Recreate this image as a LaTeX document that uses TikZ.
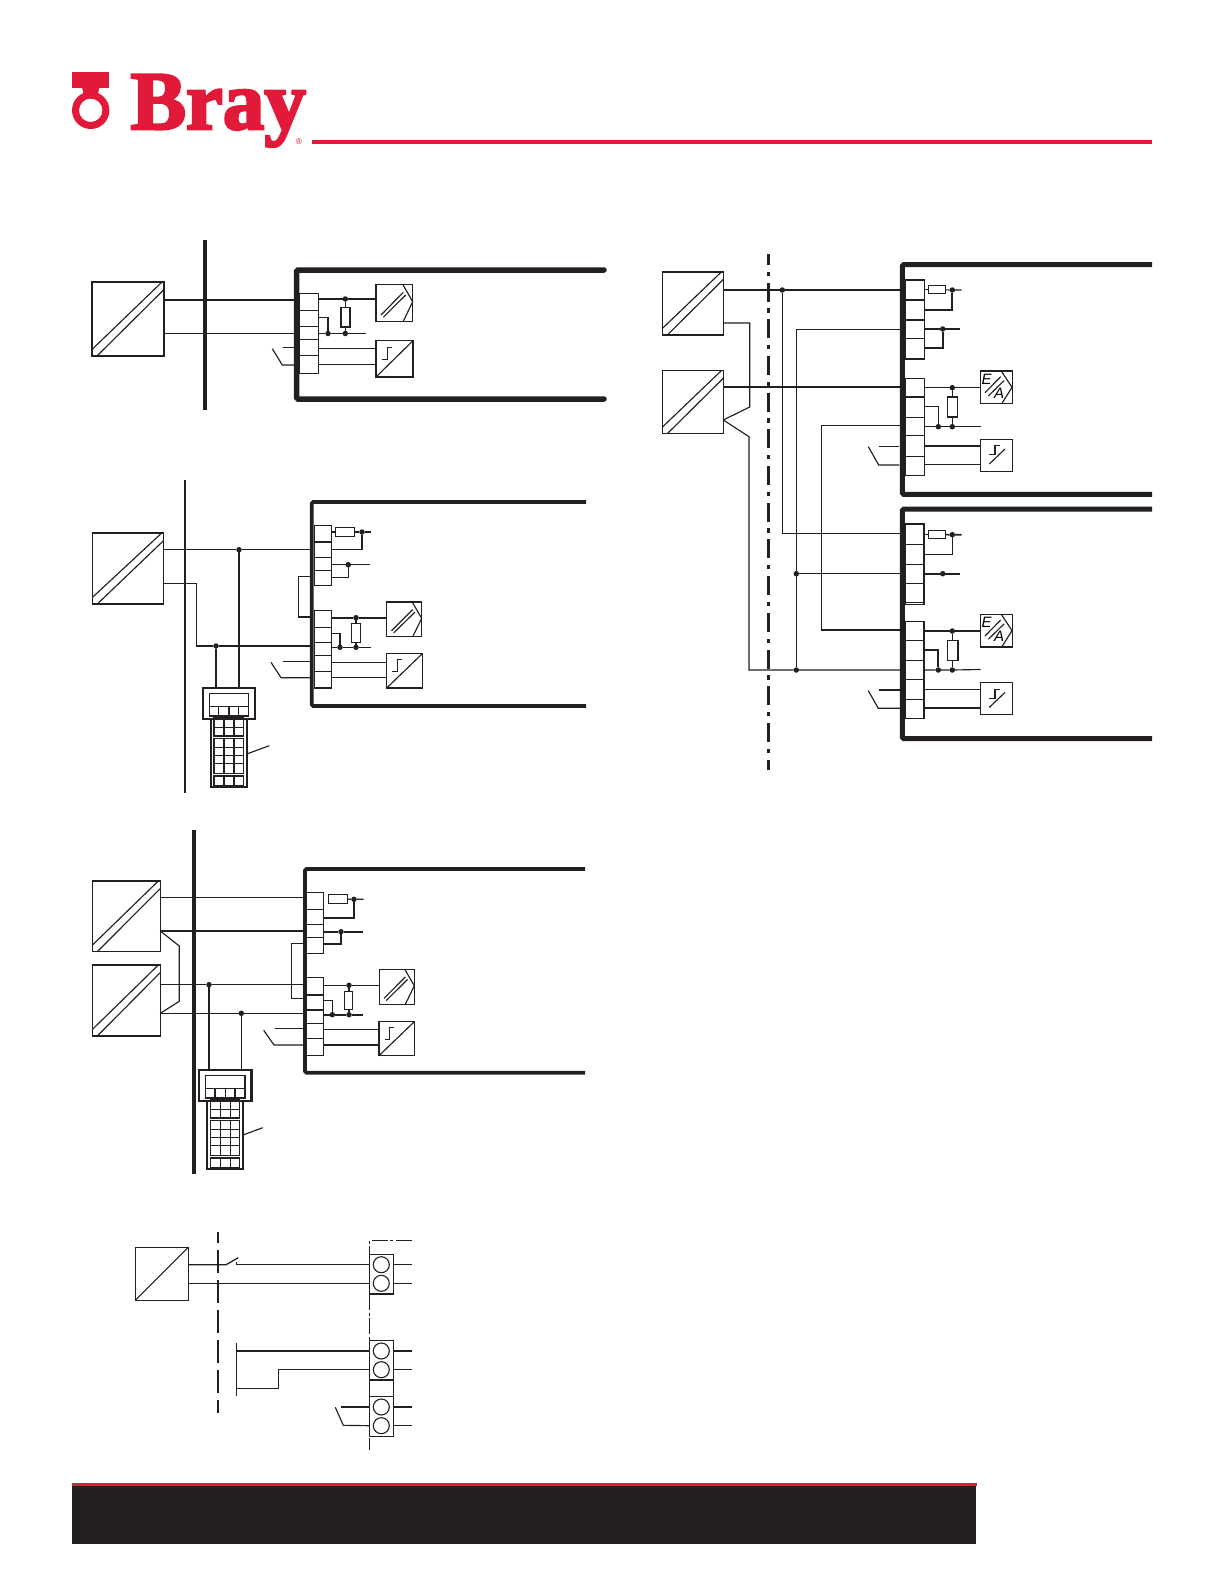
\documentclass[tikz,border=0pt]{standalone}
\usepackage{fontspec}
\setmainfont{Liberation Serif}
\newfontfamily\logofont[FakeBold=3.2]{Liberation Serif Bold}
\newfontfamily\smallsans{Liberation Sans}
\definecolor{ink}{HTML}{231F20}
\definecolor{brayred}{HTML}{E21A3A}
\tikzset{
  x=1pt,y=-1pt,
  wire/.style={draw=ink,line width=1.15pt},
  hwire/.style={draw=ink,line width=1.7pt},
  frame/.style={draw=ink,line width=1.1pt,rectangle,inner sep=0pt,outer sep=0pt},
  cellline/.style={draw=ink,line width=1.1pt},
  jd/.style={circle,fill=ink,inner sep=0pt,outer sep=0pt,minimum size=5.5pt},
  encl/.style={draw=ink,rounded corners=1.5pt},
  dashdotbus/.style={draw=ink,line width=2.6pt,dash pattern=on 19pt off 6.7pt on 4.3pt off 6.7pt,dash phase=8.2pt},
  thinchain/.style={draw=ink,line width=.9pt,dash pattern=on 16pt off 2.5pt on 3pt off 2.5pt},
  brkbus/.style={draw=ink,line width=1.8pt,dash pattern=on 23pt off 7pt,dash phase=12pt},
}
% framed rectangle node from its corners
\newcommand{\rectnode}[6][]{\node[frame,#1,minimum width={(#4-#2)*1pt},minimum height={(#5-#3)*1pt}] (#6) at ({(#2+#4)/2},{(#3+#5)/2}) {};}
\newcommand{\convbox}[5]{\rectnode{#2}{#3}{#4}{#5}{#1}
  \draw[wire] (#2,{#5-6.5}) -- ({#4-2},#3);
  \draw[wire] ({#2+5},#5) -- (#4,{#3+7.5});}
\newcommand{\adcbox}[5]{\rectnode{#2}{#3}{#4}{#5}{#1}
  \begin{scope}[shift={(#2,#3)},xscale={(#4-#2)/36.7},yscale={(#5-#3)/37}]
  \draw[wire] (5,30.7) -- (27.3,8);
  \draw[wire] (7.3,33) -- (29.7,10.7);
  \draw[wire] (26.7,0) -- (36.7,17.4) -- (27.3,37);
  \end{scope}}
\newcommand{\stpbox}[5]{\rectnode{#2}{#3}{#4}{#5}{#1}
  \begin{scope}[shift={(#2,#3)},xscale={(#4-#2)/36.7},yscale={(#5-#3)/37}]
  \draw[wire] (0,37) -- (36.7,0);
  \draw[wire] (5.7,19.3) -- (11,19.3) -- (11,6.6) -- (15.7,6.6);
  \end{scope}}
\newcommand{\stpboxb}[5]{\rectnode{#2}{#3}{#4}{#5}{#1}
  \begin{scope}[shift={(#2,#3)}]
  \draw[wire] (8.6,24.7) -- (24.3,9.7);
  \draw[wire] (8.6,15.4) -- (14.3,15.4) -- (14.3,6.4) -- (19.3,6.4);
  \end{scope}}
\newcommand{\eabox}[5]{\rectnode{#2}{#3}{#4}{#5}{#1}
  \begin{scope}[shift={(#2,#3)}]
  \draw[wire] (4.3,21.7) -- (20,5.7);
  \draw[wire] (7.6,25) -- (23.3,9.7);
  \draw[wire] (21,.7) -- (31.3,16.3) -- (21.3,32.3);
  \node[inner sep=0pt] (#1E) at (6,8) {\smallsans\itshape\fontsize{15}{15}\selectfont E};
  \node[inner sep=0pt] (#1A) at (18.5,22) {\smallsans\itshape\fontsize{15}{15}\selectfont A};
  \end{scope}}
\newcommand{\termblock}[6]{\rectnode{#2}{#3}{#4}{#5}{#1}
  \foreach \d in {#6} {\draw[cellline] (#2,\d) -- (#4,\d);}}
\newcommand{\resbox}[5]{\rectnode[fill=white,line width=1.1pt]{#2}{#3}{#4}{#5}{#1}}
\newcommand{\jdot}[3]{\node[jd] (#1) at (#2,#3) {};}
\newcommand{\handset}[3]{%
  \begin{scope}[shift={(#2,#3)}]
  \rectnode[line width=2.3pt]{202.7}{687.7}{255.3}{719}{#1}
  \rectnode[line width=2.3pt]{210.7}{719}{246.7}{787.3}{#1body}
  \rectnode{209.3}{693.3}{248.7}{706.7}{#1screen}
  \rectnode{209.3}{706.7}{248.7}{716}{#1soft}
  \foreach \k in {218.7,229,238.7} {\draw[cellline] (\k,706.7) -- (\k,716);}
  \rectnode{214}{717.3}{243.3}{736}{#1keysa}
  \rectnode{214}{738.3}{243.3}{773.3}{#1keysb}
  \rectnode{214}{776}{243.3}{785.3}{#1keysc}
  \foreach \k in {224,234} {\draw[cellline] (\k,717.3) -- (\k,736);
    \draw[cellline] (\k,738.3) -- (\k,773.3);\draw[cellline] (\k,776) -- (\k,785.3);}
  \foreach \r in {727.3} {\draw[cellline] (214,\r) -- (243.3,\r);}
  \foreach \r in {747.3,755.7,763.7} {\draw[cellline] (214,\r) -- (243.3,\r);}
  \end{scope}}
\begin{document}
\begin{tikzpicture}
\useasboundingbox (0,0) rectangle (1224,1584);
\fill[white] (0,0) rectangle (1224,1584);

%% ---------- header ----------
\fill[brayred] (72,72.3) rectangle (109.3,87.7);
\fill[brayred] (82,87) -- (99.5,87) -- (97.5,96) -- (84,96) -- cycle;
\fill[brayred,even odd rule] (90.7,110.3) circle[radius=18.7] (90.7,110.3) circle[radius=11.7];
\node[anchor=base west,inner sep=0pt,text=brayred] (logo) at (130.5,129)
  {\logofont\fontsize{83}{83}\selectfont Bray};
\node[text=brayred,inner sep=0pt] (reg) at (299,142) {\smallsans\fontsize{8.5}{8.5}\selectfont ®};
\fill[brayred] (311.7,140) rectangle (1152,144.3);

%% ---------- footer ----------
\fill[ink] (72,1486) rectangle (976,1544);
\fill[brayred] (72,1482.7) rectangle (977,1486);

%% ---------- diagram 1 ----------
\draw[draw=ink,line width=4pt] (205,240) -- (205,410);
\draw[encl,line cap=round,line width=5.5pt] (604,270) -- (296.5,270) -- (296.5,399) -- (604,399);
\convbox{conva}{92}{282}{164}{356}
\termblock{ta}{299.5}{293.3}{318.5}{373.7}{310.3,326.3,339.7,355.7}
\adcbox{adca}{376}{284.3}{412.7}{321.3}
\stpbox{stpa}{376}{340.7}{413}{377}
\coordinate (pa1) at (296,300);
\coordinate (pa2) at (296,333.3);
\draw[wire] (conva.east|-pa1) -- (pa1);
\draw[wire] (conva.east|-pa2) -- (pa2);
\jdot{ja1}{345.3}{299}
\jdot{ja2}{345.3}{333.5}
\jdot{ja3}{328}{333.5}
\coordinate (ea1) at (366,333.5);
\draw[wire] (ta.east|-ja1) -- (ja1) -- (adca.west|-ja1);
\draw[wire] (ta.east|-ja2) -- (ja3) -- (ja2) -- (ea1);
\draw[wire] (ja1) -- (ja2);
\resbox{ra}{341}{307.3}{350}{327}
\draw[wire] (ta.east|-0,317.3) -| (ja3);
\draw[wire] (ta.east|-0,348.3) -- (stpa.west|-0,348.3);
\draw[wire] (ta.east|-0,364.3) -- (stpa.west|-0,364.3);
\draw[wire] (283.3,347.7) -- (296.7,347.7);
\draw[wire] (272.3,348.7) -- (282.3,365) -- (296,365);

%% ---------- diagram 2 ----------
\draw[draw=ink,line width=2.2pt] (185,480) -- (185,793);
\draw[encl,line width=3.8pt] (586,502) -- (311.7,502) -- (311.7,706) -- (586,706);
\convbox{convb}{92.3}{533}{163.7}{604}
\termblock{tbu}{314.3}{525.3}{331.7}{585.7}{542,557.3,570.7}
\termblock{tbl}{314.3}{610.7}{331.7}{688}{627.7,642.7,655.7,671.3}
\adcbox{adcb}{386.7}{602}{421.7}{636.7}
\stpbox{stpb}{386.7}{653.7}{422.3}{688}
\handset{hhb}{0}{0}
\jdot{jb1}{239}{549.7}
\jdot{jb2}{216}{646}
\coordinate (pb1) at (311,549.7);
\coordinate (pb2) at (311,646);
\draw[wire] (convb.east|-pb1) -- (jb1) -- (pb1);
\draw[wire] (convb.east|-0,583.3) -- (196.7,583.3) -- (196.7,646) -- (jb2) -- (pb2);
\draw[wire] (jb1) -- (jb1|-hhb.north);
\draw[wire] (jb2) -- (jb2|-hhb.north);
\rectnode{335.7}{527.7}{354.7}{536.3}{rb1}
\jdot{jb3}{362}{532}
\coordinate (eb1) at (370.7,532);
\draw[hwire] (tbu.east|-rb1) -- (rb1);
\draw[hwire] (rb1) -- (jb3) -- (eb1);
\draw[wire] (tbu.east|-0,549.3) -| (jb3);
\jdot{jb4}{348.3}{564.7}
\coordinate (eb2) at (370,564.7);
\draw[wire] (tbu.east|-jb4) -- (jb4) -- (eb2);
\draw[wire] (tbu.east|-0,577.3) -| (jb4);
\coordinate (pb3) at (311,576.3);
\coordinate (pb4) at (311,617);
\draw[wire] (pb3) -- (298.3,576.3) -- (298.3,617) -- (pb4);
\jdot{jb5}{356}{617.7}
\jdot{jb6}{356}{647.3}
\jdot{jb7}{340}{647.3}
\coordinate (eb3) at (370.7,647.3);
\draw[hwire] (tbl.east|-jb5) -- (jb5) -- (adcb.west|-jb5);
\draw[wire] (tbl.east|-jb6) -- (jb7) -- (jb6) -- (eb3);
\draw[wire] (jb5) -- (jb6);
\resbox{rb2}{351.7}{623.7}{360.3}{642.3}
\draw[wire] (tbl.east|-0,633.7) -| (jb7);
\draw[wire] (tbl.east|-0,662.3) -- (stpb.west|-0,662.3);
\draw[wire] (tbl.east|-0,677.3) -- (stpb.west|-0,677.3);
\draw[wire] (282.7,661.3) -- (311,661.3);
\draw[wire] (271,662.3) -- (281,677.7) -- (311,677.7);
\draw[wire] (hhbbody.east|-0,754) -- (269.3,745.7);

%% ---------- diagram 3 ----------
\draw[draw=ink,line width=3.6pt] (194,830) -- (194,1174);
\draw[encl,line width=3.8pt] (585,869) -- (305,869) -- (305,1072.7) -- (585,1072.7);
\convbox{convc}{92.3}{881}{160.3}{951.7}
\convbox{convd}{92.3}{965}{160.3}{1036}
\termblock{tcu}{306}{892.7}{323.3}{953.3}{909.3,924.3,937.7}
\termblock{tcl}{306}{977.3}{323.3}{1055.3}{995,1010,1023.3,1038.3}
\adcbox{adcc}{379.3}{969.3}{414.3}{1004.3}
\stpbox{stpc}{379}{1021.3}{414.7}{1055.7}
\handset{hhc}{-3.7}{382}
\jdot{jc1}{209}{984.7}
\jdot{jc2}{241.3}{1013.3}
\coordinate (pc1) at (304,897.3);
\coordinate (pc2) at (304,931);
\coordinate (pc3) at (304,984.7);
\coordinate (pc4) at (304,1013.3);
\draw[wire] (convc.east|-pc1) -- (pc1);
\draw[wire] (convc.east|-pc2) -- (pc2);
\draw[wire] (convd.east|-jc1) -- (jc1) -- (pc3);
\draw[wire] (convd.east|-jc2) -- (jc2) -- (pc4);
\draw[wire] (convc.east|-pc2) -- (179.3,946) -- (179.3,1001.3) -- (convd.east|-jc2);
\draw[wire] (jc1) -- (jc1|-hhc.north);
\draw[wire] (jc2) -- (jc2|-hhc.north);
\rectnode{328.3}{894.7}{347.7}{903.3}{rc1}
\jdot{jc3}{354}{899.3}
\coordinate (ec1) at (363.7,899.3);
\draw[wire] (rc1) -- (jc3) -- (ec1);
\draw[hwire] (tcu.east|-0,917.7) -| (jc3);
\jdot{jc4}{341}{931.7}
\coordinate (ec2) at (362.7,931.7);
\draw[hwire] (tcu.east|-jc4) -- (jc4) -- (ec2);
\draw[hwire] (tcu.east|-0,944.3) -| (jc4);
\coordinate (pc5) at (304,943.7);
\coordinate (pc6) at (304,998.7);
\draw[wire] (pc5) -- (291.3,943.7) -- (291.3,998.7) -- (pc6);
\jdot{jc5}{349}{985.3}
\jdot{jc6}{349}{1014.7}
\jdot{jc7}{332.3}{1014.7}
\coordinate (ec3) at (362.7,1014.7);
\draw[wire] (tcl.east|-jc5) -- (jc5) -- (adcc.west|-jc5);
\draw[hwire] (tcl.east|-jc6) -- (jc7) -- (jc6) -- (ec3);
\draw[wire] (jc5) -- (jc6);
\resbox{rc2}{344.3}{991.3}{352.7}{1009.3}
\draw[wire] (tcl.east|-0,1000.3) -| (jc7);
\draw[wire] (tcl.east|-0,1029.3) -- (stpc.west|-0,1029.3);
\draw[hwire] (tcl.east|-0,1044.7) -- (stpc.west|-0,1044.7);
\draw[wire] (275,1028.7) -- (304,1028.7);
\draw[wire] (263.7,1030.3) -- (274,1045) -- (304,1045);
\draw[wire] (hhcbody.east|-0,1135) -- (262.7,1127.7);

%% ---------- diagram 4 ----------
\draw[brkbus] (218,1232) -- (218,1413.3);
\draw[thinchain] (411.7,1240.7) -- (369.3,1240.7) -- (369.3,1450);
\rectnode[fill=white]{135.3}{1247.3}{188.3}{1300.3}{convf}
\draw[wire] (convf.south west) -- (convf.north east);
\rectnode{369.3}{1254.3}{393.3}{1294}{tf1}
\rectnode{369.3}{1340.3}{393.3}{1380}{tf2}
\rectnode{369.3}{1380}{393.3}{1396.3}{tf3}
\rectnode{369.3}{1396.3}{393.3}{1436.3}{tf4}
\foreach \n/\yy/\b in {a/1264.7/tf1,b/1283.3/tf1,c/1351/tf2,d/1369.7/tf2,e/1407/tf4,f/1425.7/tf4}{
  \node[draw=ink,line width=1.1pt,circle,inner sep=0pt,minimum size=16pt] (k\n) at (381.3,\yy) {};
  \coordinate (s\n) at (411.7,\yy);
  \draw[wire] (\b.east|-k\n) -- (s\n);
}
\coordinate (sw1) at (226,1264.7);
\coordinate (sw2) at (238.3,1257.7);
\coordinate (sw3) at (236.3,1261.7);
\draw[wire,line width=1.3pt] (convf.east|-sw1) -- (sw1) -- (sw2);
\draw[wire,line width=1.3pt] (sw3) -- (sw3|-ka) -- (tf1.west|-ka);
\draw[wire] (convf.east|-kb) -- (tf1.west|-kb);
\coordinate (w1) at (236.3,1343);
\coordinate (w2) at (236.3,1395.7);
\draw[wire] (w1) -- (w2);
\draw[wire] (w1|-kc) -- (tf2.west|-kc);
\draw[wire] (w1|-0,1388.3) -- (278.7,1388.3) -- (278.7,1369.7) -- (tf2.west|-kd);
\draw[wire] (341,1407) -- (tf4.west|-ke);
\draw[wire] (335.3,1407.3) -- (343.3,1425.3) -- (tf4.west|-kf);

%% ---------- right-hand diagram ----------
\draw[dashdotbus] (768.3,254) -- (768.3,770);
\draw[encl,line width=5pt] (1152,264.7) -- (902.3,264.7) -- (902.3,494.3) -- (1152,494.3);
\draw[encl,line width=5pt] (1152,509) -- (902.3,509) -- (902.3,738.7) -- (1152,738.7);
\convbox{convg}{662.3}{272}{723.3}{335}
\convbox{convh}{662.3}{370.7}{723.3}{433.7}
\termblock{tgu}{905}{279.7}{924.3}{359}{300,320,338.3}
\termblock{tgl}{905}{378.3}{924.3}{475.3}{397,417.3,435.7,456.7}
\termblock{thu}{905}{524}{924}{604.3}{544.3,564.3,583.3,602.7}
\termblock{thl}{905}{621.3}{924}{718.3}{640.3,660.3,679.3,699.3}
\foreach \tb in {tgu,tgl,thu,thl} {\draw[draw=ink,line width=1.6pt] (\tb.north west) -- (\tb.north east) -- (\tb.south east) -- (\tb.south west);}
\eabox{eag}{980.7}{371}{1012.7}{403.7}
\stpboxb{stpg}{980.7}{439.3}{1012.7}{471.3}
\eabox{eah}{980.7}{614.3}{1012.7}{647}
\stpboxb{stph}{980.7}{682.7}{1012.7}{714.7}
% field wiring
\jdot{jg1}{782.3}{290}
\jdot{jg2}{796.3}{573.7}
\jdot{jg3}{796.3}{670}
\coordinate (pg1) at (900,290);
\coordinate (pg2) at (900,329.3);
\coordinate (pg3) at (900,387);
\coordinate (pg4) at (900,425.7);
\coordinate (ph1) at (900,533.3);
\coordinate (ph2) at (900,573.7);
\coordinate (ph3) at (900,630);
\coordinate (ph4) at (900,670);
\coordinate (kk) at (723.3,420);
\draw[wire] (convg.east|-jg1) -- (jg1) -- (pg1);
\draw[wire] (jg1) -- (782.3,533.3) -- (ph1);
\draw[wire] (796.3,329.3) -- (pg2);
\draw[wire] (796.3,329.3) -- (jg2) -- (jg3);
\draw[wire] (jg2) -- (ph2);
\draw[wire] (convh.east|-pg3) -- (pg3);
\draw[wire] (pg4) -- (821.3,425.7) -- (821.3,630) -- (ph3);
\draw[wire] (convg.east|-0,323) -- (749.7,323) -- (749.7,407) -- (kk);
\draw[wire] (kk) -- (749,436.7) -- (749,670) -- (jg3) -- (ph4);
% upper device
\rectnode{928.3}{285.7}{945.7}{293.7}{rg1}
\jdot{jg4}{952.3}{290}
\coordinate (eg1) at (961.7,290);
\draw[wire] (tgu.east|-rg1) -- (rg1);
\draw[wire] (rg1) -- (jg4) -- (eg1);
\draw[hwire] (tgu.east|-0,310) -| (jg4);
\jdot{jg5}{942.7}{329}
\coordinate (eg2) at (960,329);
\draw[hwire] (tgu.east|-jg5) -- (jg5) -- (eg2);
\draw[hwire] (tgu.east|-0,348.3) -| (jg5);
\jdot{jg6}{952.3}{387.7}
\jdot{jg7}{952.3}{426.7}
\jdot{jg8}{938.3}{426.7}
\coordinate (eg3) at (980.7,426.7);
\draw[wire] (tgl.east|-jg6) -- (jg6) -- (eag.west|-jg6);
\draw[wire] (tgl.east|-jg7) -- (jg8) -- (jg7) -- (eg3);
\draw[wire] (jg6) -- (jg7);
\resbox{rg2}{947.3}{397}{957.7}{417}
\draw[wire] (tgl.east|-0,406.3) -| (jg8);
\draw[wire] (tgl.east|-0,446) -- (stpg.west|-0,446);
\draw[wire] (tgl.east|-0,464.7) -- (stpg.west|-0,464.7);
\draw[wire] (879.3,446.3) -- (899.3,446.3);
\draw[wire] (868.3,446.7) -- (878.7,465) -- (899.3,465);
% lower device
\rectnode{928.3}{530.3}{945.7}{538.7}{rh1}
\jdot{jh4}{952.3}{534.7}
\coordinate (eh1) at (961.7,534.7);
\draw[wire] (thu.east|-rh1) -- (rh1);
\draw[hwire] (rh1) -- (jh4) -- (eh1);
\draw[wire] (thu.east|-0,554.3) -| (jh4);
\jdot{jh5}{942.7}{573.7}
\coordinate (eh2) at (960,573.7);
\draw[hwire] (thu.east|-jh5) -- (jh5) -- (eh2);
\jdot{jh6}{952.3}{631}
\jdot{jh7}{952.3}{670}
\jdot{jh8}{938.3}{670}
\coordinate (eh3) at (980.7,669.5);
\draw[hwire] (thl.east|-jh6) -- (jh6) -- (eah.west|-jh6);
\draw[wire] (thl.east|-jh7) -- (jh8) -- (jh7) -- (eh3);
\draw[wire] (jh6) -- (jh7);
\resbox{rh2}{947.3}{640.3}{958}{660.7}
\draw[hwire] (thl.east|-0,650) -| (jh8);
\draw[wire] (thl.east|-0,689.3) -- (stph.west|-0,689.3);
\draw[wire] (thl.east|-0,708) -- (stph.west|-0,708);
\draw[wire] (879,690) -- (900,690);
\draw[wire] (868.3,690.7) -- (878.3,708.3) -- (900,708.3);
\end{tikzpicture}
\end{document}
